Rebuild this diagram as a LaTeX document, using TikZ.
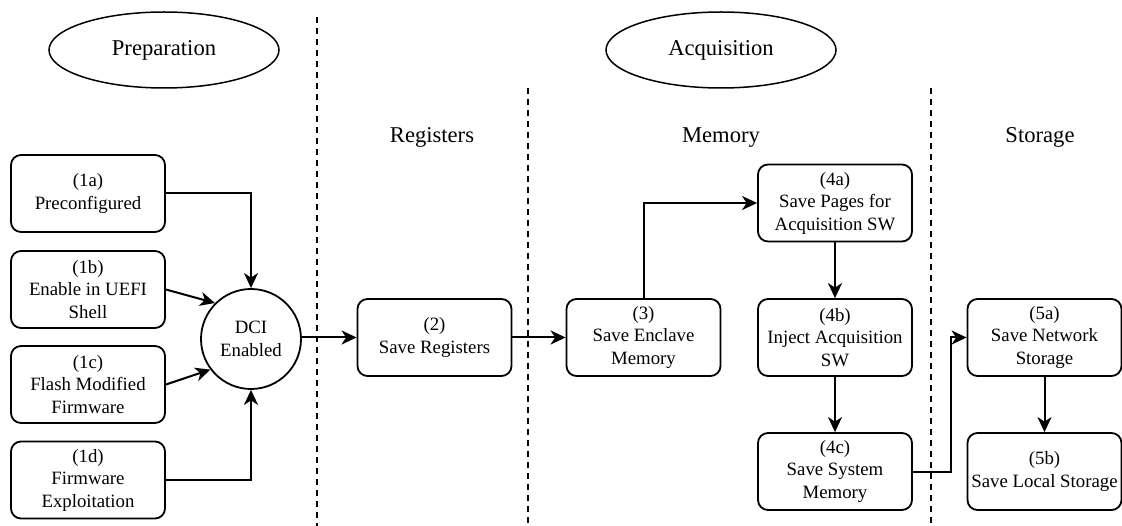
\documentclass[tikz,border=0pt]{standalone}
\usepackage{fontspec}
\setmainfont{Liberation Serif}
\usetikzlibrary{arrows.meta,shapes.geometric}
\begin{document}
\begin{tikzpicture}[x=1pt,y=-1pt,
  stepbox/.style={draw, line width=1.8pt, rounded corners=10pt, minimum width=154pt, minimum height=77pt, inner sep=0pt, align=center, font=\fontsize{18.8}{22.5}\selectfont},
  phase/.style={draw, ellipse, line width=1.5pt, minimum width=230pt, minimum height=76pt, inner sep=0pt, font=\fontsize{22.6}{27}\selectfont},
  hub/.style={draw, circle, line width=1.8pt, minimum size=100pt, inner sep=0pt, align=center, font=\fontsize{18.8}{22.5}\selectfont},
  lane/.style={font=\fontsize{22.6}{27}\selectfont, anchor=base, inner sep=0pt},
  flow/.style={line width=2pt, -{Stealth[length=15pt,width=14pt,inset=4.5pt]}},
  divider/.style={line width=1.5pt, dash pattern=on 6pt off 5pt}]
\fill[white] (0,0) rectangle (1122,526);
\useasboundingbox (0,0) rectangle (1122,526);

% phase headings
\node[phase] (prep) at (164,50) {Preparation};
\node[phase] (acq) at (721,50) {Acquisition};
\node[lane] (lreg) at (432,143) {Registers};
\node[lane] (lmem) at (721,143) {Memory};
\node[lane] (lsto) at (1040,143) {Storage};

% dividers
\draw[divider] (317,17) -- (317,526);
\draw[divider] (528,88) -- (528,526);
\draw[divider] (931,88) -- (931,526);

% preparation boxes
\node[stepbox] (b1a) at (88,193.5) {(1a)\\Preconfigured};
\node[stepbox] (b1b) at (88,289.5) {(1b)\\Enable in UEFI\\Shell};
\node[stepbox] (b1c) at (88,384.5) {(1c)\\Flash Modified\\Firmware};
\node[stepbox] (b1d) at (88,480) {(1d)\\Firmware\\Exploitation};
\node[hub] (dci) at (251,339) {DCI\\Enabled};

% acquisition boxes
\node[stepbox] (b2) at (434.5,337.5) {(2)\\Save Registers};
\node[stepbox] (b3) at (643.5,337.5) {(3)\\Save Enclave\\Memory};
\node[stepbox] (b4a) at (835,203) {(4a)\\Save Pages for\\Acquisition SW};
\node[stepbox] (b4b) at (835,337.5) {(4b)\\Inject Acquisition\\SW};
\node[stepbox] (b4c) at (835,471.5) {(4c)\\Save System\\Memory};
\node[stepbox] (b5a) at (1044.5,337.5) {(5a)\\Save Network\\Storage};
\node[stepbox] (b5b) at (1044.5,471.5) {(5b)\\Save Local Storage};

% connectors
\draw[flow] (b1a.east) -| (dci.north);
\draw[flow] (b1b.east) -- (dci.135);
\draw[flow] (b1c.east) -- (dci.217);
\draw[flow] (b1d.east) -| (dci.south);
\draw[flow] (dci.east |- b2.west) -- (b2.west);
\draw[flow] (b2.east) -- (b3.west);
\draw[flow] (b3.north) |- (b4a.west);
\draw[flow] (b4a.south) -- (b4b.north);
\draw[flow] (b4b.south) -- (b4c.north);
\draw[flow] (b4c.east) -- ([xshift=38pt]b4c.east) |- (b5a.west);
\draw[flow] (b5a.south) -- (b5b.north);
\end{tikzpicture}
\end{document}
